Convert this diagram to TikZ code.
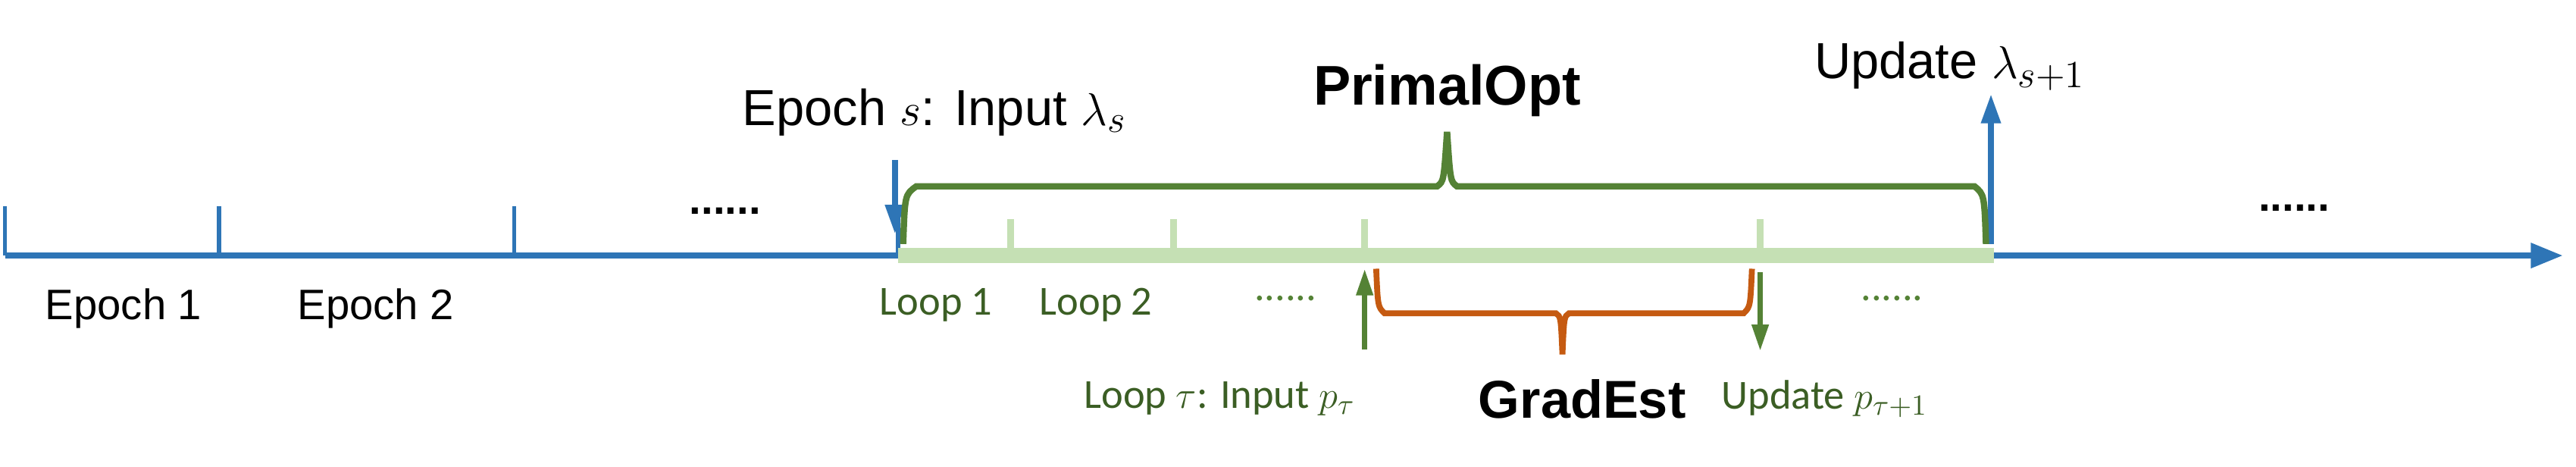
\documentclass[tikz,border=0pt]{standalone}
\usepackage{fontspec}
\setmainfont{Liberation Sans}
\newfontfamily\carlfont{Carlito}
\usetikzlibrary{arrows.meta}
\definecolor{cblue}{HTML}{2E75B6}
\definecolor{cgreen}{HTML}{548235}
\definecolor{clight}{HTML}{C5E0B4}
\definecolor{corange}{HTML}{C55A11}
\definecolor{cdark}{HTML}{3B5E24}
\begin{document}
\begin{tikzpicture}[x=0.02175cm,y=-0.02175cm,
  bl/.style={cblue,line width=2.2pt},
  lt/.style={clight,line width=2.6pt},
  lbl/.style={font=\fontsize{16}{18}\selectfont},
  lp/.style={text=cdark,font=\carlfont\fontsize{15.5}{18}\selectfont},
  big/.style={font=\bfseries\fontsize{21}{24}\selectfont}]
\useasboundingbox (0,0) rectangle (1563,283);
% axis
\coordinate (a0) at (3,155); \coordinate (aend) at (1555,155);
\draw[bl,-{Triangle[length=12pt,width=9pt]}] (a0) -- (aend);
\foreach \x/\n in {3/t0,133/t1,312/t2,545/t3}{\coordinate (\n) at (\x,125); \draw[bl,line width=1.6pt] (\n) -- (\x,155);}
% green bar
\coordinate (g0) at (545,155); \coordinate (g1) at (1210,155);
\draw[clight,line width=5.5pt] (g0) -- (g1);
\foreach \x/\n in {613/l1,712/l2,828/l3,1068/l4}{\coordinate (\n) at (\x,133); \draw[lt] (\n) -- (\x,152);}
% epoch arrows
\coordinate (ia) at (543,97); \coordinate (ib) at (543,142);
\draw[bl,-{Triangle[length=11pt,width=7pt]}] (ia) -- (ib);
\coordinate (ua) at (1208,148); \coordinate (ub) at (1208,57);
\draw[bl,-{Triangle[length=11pt,width=7pt]}] (ua) -- (ub);
\node[font=\fontsize{19}{22}\selectfont] (ein) at (567,68) {Epoch $s$: Input $\lambda_s$};
\node[font=\fontsize{19}{22}\selectfont] (eup) at (1183,40) {Update $\lambda_{s+1}$};
% primalopt brace
\coordinate (b0) at (548,148); \coordinate (b1) at (1205,148);
\draw[cgreen,line width=2.4pt] (b0) .. controls (549,118) .. (556,113) -- (872,113)
  .. controls (876,110) .. (878,80) .. controls (880,110) .. (884,113) -- (1198,113)
  .. controls (1204,118) .. (b1);
\node[big] (po) at (878,55) {PrimalOpt};
% dots
\node[lbl,font=\bfseries\fontsize{16}{18}\selectfont] (d1) at (440,128) {......};
\node[lbl,font=\bfseries\fontsize{16}{18}\selectfont] (d2) at (1392,126) {......};
\node[lbl] (e1) at (75,187) {Epoch 1};
\node[lbl] (e2) at (228,187) {Epoch 2};
\node[lp] (lo1) at (568,185) {Loop 1};
\node[lp] (lo2) at (665,185) {Loop 2};
\node[lp,text=cgreen] (ld1) at (780,181) {......};
\node[lp,text=cgreen] (ld2) at (1148,181) {......};
% loop arrows
\coordinate (pa) at (828,212); \coordinate (pb) at (828,163);
\draw[cgreen,line width=2pt,-{Triangle[length=10pt,width=6pt]}] (pa) -- (pb);
\coordinate (qa) at (1068,165); \coordinate (qb) at (1068,213);
\draw[cgreen,line width=2pt,-{Triangle[length=10pt,width=6pt]}] (qa) -- (qb);
% gradest brace
\coordinate (o0) at (835,163); \coordinate (o1) at (1063,163);
\draw[corange,line width=2.2pt] (o0) .. controls (836,186) .. (840,190) -- (944,190)
  .. controls (947,192) .. (948,215) .. controls (949,192) .. (952,190) -- (1058,190)
  .. controls (1062,186) .. (o1);
\node[lp] (lin) at (740,242) {Loop $\tau$: Input $p_\tau$};
\node[font=\bfseries\fontsize{20}{24}\selectfont] (ge) at (960,242) {GradEst};
\node[lp] (lup) at (1107,242) {Update $p_{\tau+1}$};
\end{tikzpicture}
\end{document}
